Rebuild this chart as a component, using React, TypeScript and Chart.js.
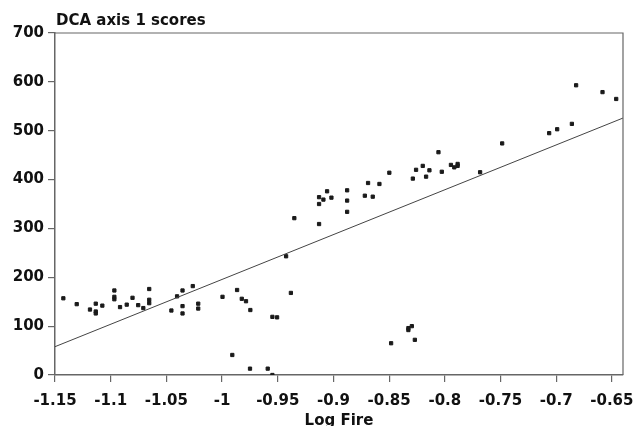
import React, { useEffect, useRef } from "react";
import { Chart, registerables } from "chart.js";

Chart.register(...registerables);

const fireX: number[] = [
  -1.1425, -1.1305, -1.1186, -1.1134, -1.1134, -1.1134, -1.1075, -1.0967, -1.0967, -1.0967,
  -1.0916, -1.0856, -1.0804, -1.0753, -1.0707, -1.0654, -1.0654, -1.0654, -1.0455, -1.0404,
  -1.0355, -1.0355, -1.0355, -1.0263, -1.0214, -1.0214, -0.9996, -0.9908, -0.9865, -0.9823,
  -0.9785, -0.9746, -0.9749, -0.959, -0.9548, -0.9506, -0.9548, -0.9425, -0.9382, -0.9351,
  -0.9129, -0.9129, -0.9129, -0.909, -0.9057, -0.9018, -0.8877, -0.8877, -0.8877, -0.8718,
  -0.8689, -0.8647, -0.8587, -0.8498, -0.8287, -0.8258, -0.8198, -0.8168, -0.8138, -0.8057,
  -0.8027, -0.7945, -0.7915, -0.7885, -0.7885, -0.7683, -0.7485, -0.7063, -0.6991, -0.6859,
  -0.6821, -0.6584, -0.6461, -0.8482, -0.8327, -0.8327, -0.8296, -0.8269,
];

const dcaScores: number[] = [
  157, 145, 134, 146, 130, 126, 142, 173, 160, 155,
  139, 144, 158, 143, 137, 176, 154, 147, 132, 161,
  173, 141, 126, 182, 146, 136, 160, 41, 174, 156,
  151, 133, 13, 13, 119, 118, 0, 243, 168, 321,
  309, 350, 364, 359, 376, 363, 378, 357, 334, 367,
  393, 365, 391, 414, 402, 420, 428, 406, 419, 456,
  416, 430, 425, 432, 428, 415, 474, 495, 503, 514,
  593, 579, 565, 65, 92, 96, 100, 72,
];

const xTickValues: number[] = [-1.15, -1.1, -1.05, -1, -0.95, -0.9, -0.85, -0.8, -0.75, -0.7, -0.65];
const xTickLabels: string[] = ["-1.15", "-1.1", "-1.05", "-1", "-0.95", "-0.9", "-0.85", "-0.8", "-0.75", "-0.7", "-0.65"];
const yTickValues: number[] = [0, 100, 200, 300, 400, 500, 600, 700];

const X_MIN = -1.15;
const X_MAX = -0.64;
const Y_MIN = 0;
const Y_MAX = 700;

// fitted regression line: score = intercept + slope * logFire
const regSlope = 917.6;
const regIntercept = 1113.2;

const chartTitle = "DCA axis 1 scores";
const xTitle = "Log Fire";

const FONT_FAMILY = "'DejaVu Sans', sans-serif";

export default function App() {
  const canvasRef = useRef<HTMLCanvasElement | null>(null);

  useEffect(() => {
    document.body.style.margin = "0";
    const canvas = canvasRef.current;
    if (!canvas) return;

    const points = fireX.map((x, i) => ({ x, y: dcaScores[i] }));
    const linePts = [X_MIN, X_MAX].map((x) => ({ x, y: regIntercept + regSlope * x }));

    const framePlugin = {
      id: "framePlugin",
      afterDraw(chart: any) {
        const { ctx, chartArea } = chart;
        ctx.save();
        ctx.strokeStyle = "#666";
        ctx.lineWidth = 1.2;
        ctx.beginPath();
        ctx.moveTo(chartArea.left, chartArea.top);
        ctx.lineTo(chartArea.right, chartArea.top);
        ctx.lineTo(chartArea.right, chartArea.bottom);
        ctx.stroke();
        ctx.fillStyle = "#111";
        ctx.font = `bold 15px ${FONT_FAMILY}`;
        ctx.textBaseline = "alphabetic";
        ctx.textAlign = "left";
        ctx.fillText(chartTitle, chartArea.left + 1, 24.5);
        ctx.textAlign = "center";
        ctx.fillText(xTitle, (chartArea.left + chartArea.right) / 2, chartArea.bottom + 50);
        ctx.restore();
      },
    };

    const chart = new Chart(canvas, {
      type: "scatter",
      data: {
        datasets: [
          {
            type: "line",
            data: linePts,
            borderColor: "#444",
            borderWidth: 1,
            pointRadius: 0,
            fill: false,
          } as any,
          {
            type: "scatter",
            data: points,
            pointStyle: "rect",
            pointRadius: 2.3,
            backgroundColor: "#1a1a1a",
            borderColor: "#1a1a1a",
            borderWidth: 1,
          } as any,
        ],
      },
      options: {
        animation: false,
        responsive: true,
        maintainAspectRatio: false,
        layout: { padding: { top: 33, right: 10, left: 0, bottom: 0 } },
        plugins: {
          legend: { display: false },
          tooltip: { enabled: false },
          title: { display: false },
        },
        scales: {
          x: {
            type: "linear",
            min: X_MIN,
            max: X_MAX,
            afterBuildTicks: (scale: any) => {
              scale.ticks = xTickValues.map((v) => ({ value: v }));
            },
            afterFit: (scale: any) => {
              scale.height = 51;
              scale.paddingLeft = 0;
              scale.paddingRight = 0;
            },
            ticks: {
              autoSkip: false,
              maxRotation: 0,
              padding: 10,
              color: "#111",
              font: { family: FONT_FAMILY, size: 15, weight: "bold" },
              callback: (value: any) => {
                const idx = xTickValues.findIndex((v) => Math.abs(v - Number(value)) < 1e-6);
                return idx >= 0 ? xTickLabels[idx] : "";
              },
            },
            grid: {
              drawOnChartArea: false,
              drawTicks: true,
              tickLength: 7,
              color: "#666",
              lineWidth: 1.2,
            },
            border: { display: true, color: "#666", width: 1.5 },
          },
          y: {
            type: "linear",
            min: Y_MIN,
            max: Y_MAX,
            afterBuildTicks: (scale: any) => {
              scale.ticks = yTickValues.map((v) => ({ value: v }));
            },
            afterFit: (scale: any) => {
              scale.width = 55;
              scale.paddingTop = 0;
              scale.paddingBottom = 0;
            },
            ticks: {
              padding: 4,
              color: "#111",
              font: { family: FONT_FAMILY, size: 15, weight: "bold" },
              callback: (value: any) => String(value),
            },
            grid: {
              drawOnChartArea: false,
              drawTicks: true,
              tickLength: 7,
              color: "#666",
              lineWidth: 1.2,
            },
            border: { display: true, color: "#666", width: 1.5 },
          },
        },
      },
      plugins: [framePlugin],
    });

    return () => {
      chart.destroy();
    };
  }, []);

  return (
    <div style={{ width: 633, height: 426, position: "relative" }}>
      <canvas ref={canvasRef} />
    </div>
  );
}
